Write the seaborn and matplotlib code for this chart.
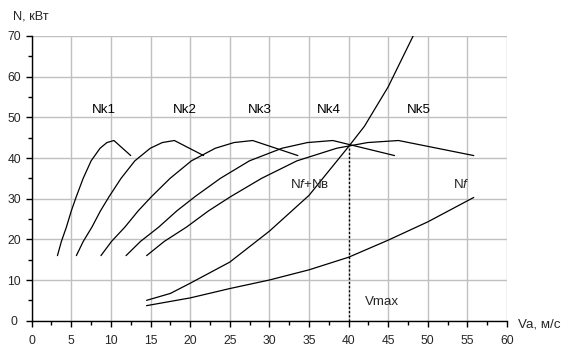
import matplotlib
matplotlib.use("Agg")
import matplotlib.pyplot as plt
import seaborn as sns
import pandas as pd

# ---- data ----
nk_power = [16, 19.5, 23, 27, 30.5, 35, 39.3, 42.4, 43.8, 44.3, 40.6]
nk1_v = [3.25, 3.75, 4.38, 5.0, 5.63, 6.5, 7.5, 8.63, 9.5, 10.38, 12.5]
nk2_v = [5.64, 6.51, 7.6, 8.68, 9.77, 11.28, 13.02, 14.97, 16.49, 18.01, 21.7]
nk3_v = [8.74, 10.08, 11.76, 13.44, 15.12, 17.47, 20.16, 23.18, 25.54, 27.89, 33.6]
nk4_v = [11.91, 13.74, 16.03, 18.32, 20.61, 23.82, 27.48, 31.6, 34.81, 38.01, 45.8]
nk5_v = [14.51, 16.74, 19.53, 22.32, 25.11, 29.02, 33.48, 38.5, 42.41, 46.31, 55.8]

nf_v = [14.5, 20, 25, 30, 35, 40, 45, 50, 55.8]
nf_n = [3.7, 5.6, 7.9, 10.0, 12.5, 15.6, 19.8, 24.3, 30.3]

nfb_v = [14.5, 17.5, 20, 25, 30, 35, 40, 42, 45, 48.2]
nfb_n = [5.0, 6.7, 9.2, 14.4, 22.0, 30.8, 42.8, 47.8, 57.5, 70.2]

vmax = 40
vmax_n = 42.8

nk_labels = ["Nk1", "Nk2", "Nk3", "Nk4", "Nk5"]
nk_label_x = [9.1, 19.3, 28.8, 37.5, 48.9]
nk_label_y = 51.7

x_ticks = list(range(0, 61, 5))
y_ticks = list(range(0, 71, 10))

# ---- style ----
sns.set_theme(style="white")
plt.rcParams["font.family"] = ["Liberation Sans", "DejaVu Sans"]
plt.rcParams["mathtext.fontset"] = "custom"
plt.rcParams["mathtext.rm"] = "Liberation Sans"
plt.rcParams["mathtext.it"] = "Liberation Sans:italic"

fig = plt.figure(figsize=(5.7, 3.57), dpi=100)
ax = fig.add_axes([0.0556, 0.1017, 0.8339, 0.7975])

curves = []
for name, v in zip(nk_labels, [nk1_v, nk2_v, nk3_v, nk4_v, nk5_v]):
    curves.append(pd.DataFrame({"v": v, "N": nk_power, "s": name}))
curves.append(pd.DataFrame({"v": nf_v, "N": nf_n, "s": "Nf"}))
curves.append(pd.DataFrame({"v": nfb_v, "N": nfb_n, "s": "Nfb"}))

for df in curves:
    sns.lineplot(data=df, x="v", y="N", ax=ax, color="black", lw=0.9,
                 estimator=None, sort=False, legend=False)

# Vmax dotted line
ax.plot([vmax, vmax], [0, vmax_n], color="black", lw=1.0, ls=(0, (1.5, 1.5)))

ax.set_xlim(0, 60)
ax.set_ylim(0, 70)
ax.set_xticks(x_ticks)
ax.set_yticks(y_ticks)
ax.set_xticks([x + 2.5 for x in x_ticks[:-1]], minor=True)
ax.set_yticks([y + 5 for y in y_ticks[:-1]], minor=True)
ax.grid(True, which="major", color="#c0c0c0", lw=1.0)
ax.set_axisbelow(True)
for s in ["top", "right"]:
    ax.spines[s].set_visible(False)
for s in ["left", "bottom"]:
    ax.spines[s].set_color("black")
    ax.spines[s].set_linewidth(1.0)
ax.tick_params(axis="x", which="major", direction="out", length=4, width=1,
               color="black", labelsize=8.7, pad=6.5, bottom=True)
ax.tick_params(axis="y", which="major", direction="out", length=4, width=1,
               color="black", labelsize=8.7, pad=8.5, left=True)
ax.tick_params(which="minor", direction="out", length=3, width=1, color="black",
               left=True, bottom=True)
for lbl in ax.get_yticklabels():
    lbl.set_horizontalalignment("center")
ax.set_xlabel("")
ax.set_ylabel("")

for lab, x in zip(nk_labels, nk_label_x):
    ax.text(x, nk_label_y, lab, ha="center", va="center", fontsize=9.6, color="black")
ax.text(35.1, 33.5, r"N$\it{f}$+Nв", ha="center", va="center", fontsize=9.6)
ax.text(54.2, 33.6, r"N$\it{f}$", ha="center", va="center", fontsize=9.6)
ax.text(44.2, 4.7, "Vmax", ha="center", va="center", fontsize=9.6)

fig.text(0.022, 0.955, "N, кВт", ha="left", va="center", fontsize=9.2)
fig.text(0.909, 0.092, "Va, м/с", ha="left", va="center", fontsize=9.6)

fig.savefig("out.png", dpi=100)
